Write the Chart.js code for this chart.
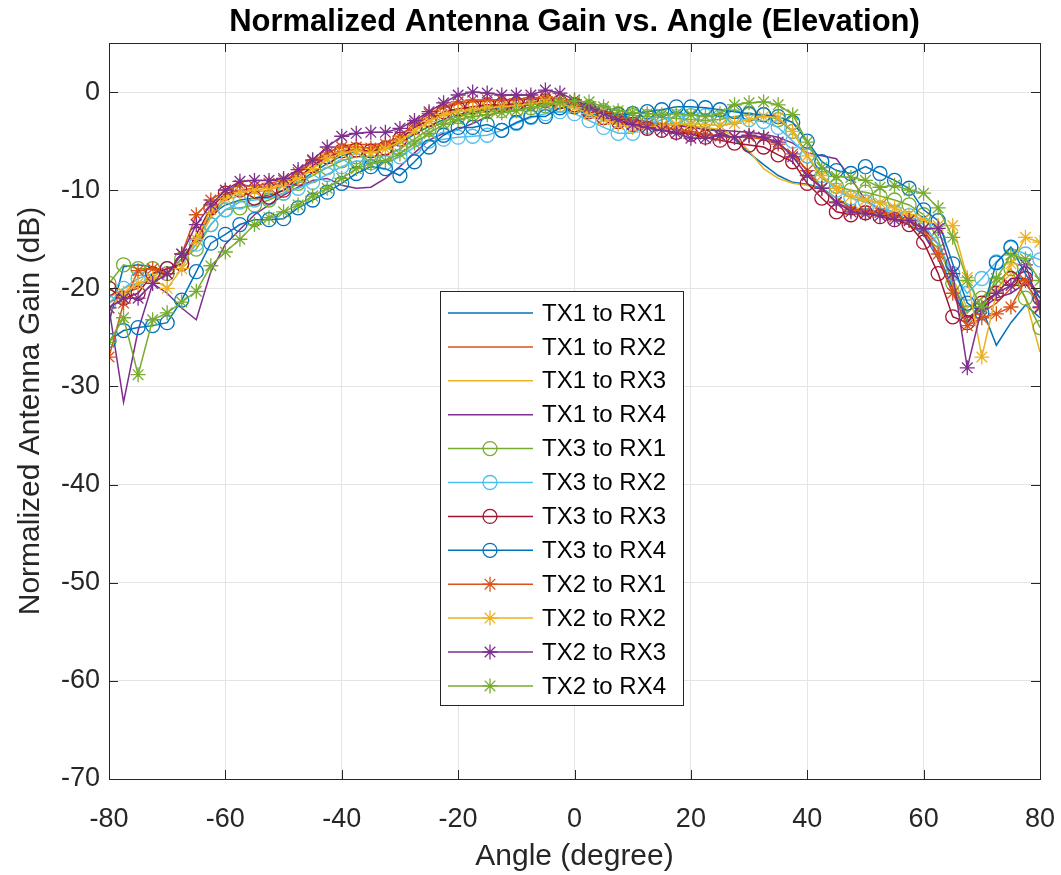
<!DOCTYPE html>
<html>
<head>
<meta charset="utf-8">
<script src="https://cdn.jsdelivr.net/npm/chart.js@4/dist/chart.umd.min.js"></script>
<style>
  body { margin: 0; background: #fff; }
  #wrap { width: 1061px; height: 875px; }
</style>
</head>
<body>
<div id="wrap"><canvas id="gainChart" width="1061" height="875"></canvas></div>
<script>
// angle in degree
const angles = [-80, -77.5, -75, -72.5, -70, -67.5, -65, -62.5, -60, -57.5, -55, -52.5, -50,
    -47.5, -45, -42.5, -40, -37.5, -35, -32.5, -30, -27.5, -25, -22.5, -20, -17.5,
    -15, -12.5, -10, -7.5, -5, -2.5, 0, 2.5, 5, 7.5, 10, 12.5, 15,
    17.5, 20, 22.5, 25, 27.5, 30, 32.5, 35, 37.5, 40, 42.5, 45, 47.5,
    50, 52.5, 55, 57.5, 60, 62.5, 65, 67.5, 70, 72.5, 75, 77.5, 80];

// normalized gain (dB)
const tx1rx1 = [-23.5, -17.8, -17.6, -17.8, -18.5, -17, -15, -12.5, -11.5, -11, -10.8, -10.5, -10,
    -9.2, -8.2, -7.3, -6.5, -6, -6, -5.8, -5.2, -4.3, -3.5, -2.8, -2.3, -2,
    -1.8, -1.6, -1.5, -1.3, -1.1, -1.2, -1.4, -1.8, -2.2, -2.6, -2.9, -3.1, -3.3,
    -3.3, -3.6, -3.8, -4, -4.8, -6.2, -7.4, -8.5, -9.2, -9.4, -9.8, -10.8, -11.8,
    -12.3, -12.6, -13, -13.5, -14.5, -16.5, -20, -23.5, -22, -25.8, -23.5, -21.7, -23];
const tx1rx2 = [-21.5, -20.5, -20, -18.5, -18, -17.5, -15, -12.5, -10.5, -10, -9.8, -9.6, -9.2,
    -8.3, -7.2, -6.2, -5.5, -5.3, -5.4, -5.2, -4.5, -3.4, -2.5, -1.6, -1.2, -1,
    -0.9, -0.9, -0.8, -0.7, -0.6, -0.8, -1.2, -1.7, -2.2, -2.6, -3, -3.3, -3.6,
    -3.9, -4.2, -4.4, -4.5, -4.6, -4.6, -4.8, -5.3, -6.3, -8, -9.8, -11.3, -11.8,
    -12, -12.3, -12.6, -13, -14, -15.5, -19.5, -23, -22.5, -21.5, -20, -19, -20.5];
const tx1rx3 = [-21, -20, -19.5, -19, -18.5, -17.5, -15.5, -12.8, -11, -10.5, -10.2, -10, -9.5,
    -8.7, -7.8, -6.8, -6, -5.7, -5.7, -5.5, -4.8, -3.7, -2.8, -2.2, -1.8, -1.6,
    -1.5, -1.4, -1.3, -1.2, -1, -1.1, -1.5, -2.2, -2.8, -3.2, -3.4, -3.4, -3.3,
    -3.2, -3.4, -3.6, -3.8, -4.5, -6, -7.8, -8.8, -9.3, -9.5, -9.9, -10.8, -11.6,
    -12.1, -12.5, -12.9, -13.4, -14.3, -16, -19, -22, -21, -20, -18.5, -21, -26.5];
const tx1rx4 = [-22, -31.6, -24.3, -19.5, -20.5, -22, -23.2, -18.3, -15.5, -14, -12.5, -11.5, -10.5,
    -9.7, -9, -8.8, -9.5, -9.8, -9.7, -8.8, -7.6, -6.2, -4.9, -4.2, -3.8, -3.2,
    -2.5, -1.8, -1.5, -1.2, -1, -1.1, -1.4, -1.8, -2.2, -2.5, -2.8, -3, -3.2,
    -3.4, -3.6, -3.8, -3.9, -4, -4.1, -4.3, -4.6, -5.2, -6.2, -6.5, -6.8, -8.8,
    -11, -12, -12.5, -13, -14.5, -17, -20.5, -23, -22, -21, -20.5, -19.5, -21.5];
const tx3rx1 = [-19.5, -17.6, -18, -18, -18.5, -17, -16, -13.5, -12, -11.8, -11.5, -11, -10.3,
    -9.3, -8.5, -7.7, -7, -6.6, -6.6, -6.4, -5.8, -4.8, -3.8, -3, -2.5, -2.2,
    -2, -1.9, -1.8, -1.6, -1.4, -1.3, -1.3, -1.5, -1.9, -2.2, -2.4, -2.5, -2.6,
    -2.7, -2.8, -2.9, -2.8, -2.5, -2.3, -2.3, -2.8, -4, -6.5, -8.8, -9.6, -10,
    -10.2, -10.6, -11, -11.5, -12.5, -15, -19.5, -22.5, -21, -19.5, -18, -21, -24];
const tx3rx2 = [-21.5, -20, -19, -18.5, -18, -17.5, -15.5, -13.5, -12, -11.2, -11, -10.8, -10.3,
    -9.8, -9.2, -8.4, -7.6, -7, -7.2, -7.2, -6.6, -5.6, -5, -4.8, -4.6, -4.5,
    -4.4, -3.9, -3.2, -2.6, -2.2, -2, -2.2, -2.9, -3.6, -4.2, -4.2, -3.5, -2.8,
    -2.5, -2.4, -2.4, -2.5, -2.6, -2.8, -3, -3.6, -5, -6.5, -8.5, -10, -10.8,
    -11.2, -11.8, -12.2, -12.6, -13.5, -15.5, -18.5, -20.5, -19, -17.3, -15.9, -16.5, -17.1];
const tx3rx3 = [-20, -21, -20.5, -18.5, -18, -17.5, -14.5, -11.8, -10.3, -10, -10.8, -10.7, -10,
    -8.8, -7.5, -6.6, -6, -5.9, -6, -5.7, -4.8, -3.6, -2.8, -2, -1.7, -1.5,
    -1.3, -1.3, -1.2, -1.1, -0.9, -1, -1.3, -2, -2.6, -3, -3.3, -3.7, -3.9,
    -4.1, -4.3, -4.6, -4.9, -5.2, -5.4, -5.6, -6.4, -7.1, -9.3, -10.8, -12.2, -12.5,
    -12.3, -12.7, -13, -13.5, -15.3, -18.5, -22.9, -23.5, -21.5, -20.5, -19, -19, -21];
const tx3rx4 = [-25.3, -24.3, -24, -23.8, -23.5, -21.2, -18.3, -15.4, -14.5, -13.5, -13, -13, -12.9,
    -11.8, -11, -10.2, -9.3, -8.3, -7.6, -7.8, -8.5, -7.1, -5.6, -4.4, -3.6, -3.6,
    -3.3, -3.9, -3.1, -2.5, -2.5, -1.6, -1.5, -1.8, -2.1, -2.3, -2.2, -2, -1.8,
    -1.5, -1.5, -1.6, -1.8, -2, -2.2, -2.3, -2.5, -3.1, -5, -7.1, -8, -8.3,
    -7.6, -8.3, -9, -9.8, -12, -13.1, -17.5, -21.5, -22.5, -17.4, -15.8, -18.5, -21];
const tx2rx1 = [-27, -21.5, -18.2, -18, -18.5, -16.5, -12.5, -11, -10, -9.5, -9.6, -9.3, -9,
    -8.2, -7, -6.2, -5.6, -5.6, -5.7, -5.3, -4.5, -3.2, -2.2, -1.5, -1, -0.8,
    -0.8, -0.8, -0.7, -0.6, -0.5, -0.7, -1.1, -1.6, -2.1, -2.6, -3, -3.3, -3.5,
    -3.8, -4, -4.3, -4.5, -4.6, -4.5, -4.6, -5.3, -6.3, -8, -9.8, -11.3, -12,
    -12.2, -12.3, -12.7, -13, -14, -16.5, -20.5, -23.8, -23, -22.6, -21.9, -19.2, -22];
const tx2rx2 = [-22, -20.5, -19.5, -19, -20, -18, -15, -12, -10.8, -10.2, -10, -9.8, -9.5,
    -8.8, -7.8, -6.8, -6.2, -6, -6.2, -5.8, -5, -4, -3, -2.3, -2, -1.8,
    -1.6, -1.5, -1.4, -1.2, -1, -1.2, -1.6, -2.2, -2.8, -3.3, -3.6, -3.6, -3.4,
    -3.3, -3.2, -3.3, -3.4, -3.2, -2.8, -2.5, -2.6, -4, -6.5, -8.5, -9.8, -10.6,
    -11, -11.3, -11.8, -12.5, -13, -13.6, -13.6, -18.9, -27, -20.5, -17.5, -14.8, -15.3];
const tx2rx3 = [-22, -21, -21, -19.5, -18.5, -16.5, -13.5, -11.5, -10, -9.1, -9, -9, -8.8,
    -7.9, -6.9, -5.6, -4.5, -4.2, -4.1, -4.1, -3.7, -2.9, -2, -1.1, -0.3, 0,
    -0.1, -0.3, -0.3, -0.3, 0.2, -0.1, -0.8, -1.5, -2.2, -2.8, -3.3, -3.6, -3.9,
    -4.2, -4.7, -4.7, -4.4, -4.6, -4.4, -4.6, -5.1, -6.6, -8.5, -9.8, -11.2, -12.2,
    -12.4, -12.6, -13, -13.1, -13.9, -13.9, -18.5, -28.1, -22, -20.5, -19.7, -17.6, -21.9];
const tx2rx4 = [-25.5, -23, -28.8, -23.2, -22.5, -21.4, -20.3, -17.7, -16.3, -15, -13.5, -12.8, -12.2,
    -11.5, -10.6, -9.8, -8.8, -7.8, -7.3, -7, -6.3, -5.2, -4.2, -3.3, -2.8, -2.5,
    -2.3, -2.1, -1.9, -1.6, -1.3, -1, -0.9, -1, -1.5, -1.9, -2.1, -2.2, -2.3,
    -2.2, -2.3, -2.5, -2.2, -1.3, -1.1, -1, -1.3, -2.3, -5.1, -7.7, -8.6, -8.7,
    -9, -9.7, -9.5, -10, -10.3, -11.8, -14.8, -19.2, -21.9, -19, -16.6, -17, -19.2];

const seriesNames = ["TX1 to RX1", "TX1 to RX2", "TX1 to RX3", "TX1 to RX4",
    "TX3 to RX1", "TX3 to RX2", "TX3 to RX3", "TX3 to RX4",
    "TX2 to RX1", "TX2 to RX2", "TX2 to RX3", "TX2 to RX4"];
const seriesData = [tx1rx1, tx1rx2, tx1rx3, tx1rx4, tx3rx1, tx3rx2, tx3rx3, tx3rx4,
    tx2rx1, tx2rx2, tx2rx3, tx2rx4];

const colors = ['#0072BD', '#D95319', '#EDB120', '#7E2F8E', '#77AC30', '#4DBEEE', '#A2142F',
    '#0072BD', '#D95319', '#EDB120', '#7E2F8E', '#77AC30'];
const markers = [false, false, false, false, 'circle', 'circle', 'circle', 'circle',
    'star', 'star', 'star', 'star'];

const chartTitle = 'Normalized Antenna Gain vs. Angle (Elevation)';
const FONT = '"Liberation Sans", Arial, Helvetica, sans-serif';

let datasets = [];
for (let i = 0; i < seriesData.length; i++) {
    let m = markers[i];
    datasets.push({
        label: seriesNames[i],
        data: angles.map((a, k) => ({ x: a, y: seriesData[i][k] })),
        borderColor: colors[i],
        backgroundColor: colors[i],
        borderWidth: 1.5,
        pointStyle: m || 'circle',
        pointRadius: m ? (m === 'star' ? 7.5 : 7) : 0,
        pointHoverRadius: m ? 7 : 0,
        pointBorderWidth: 1.3,
        pointBackgroundColor: 'rgba(0,0,0,0)',
        pointBorderColor: colors[i],
        tension: 0,
        order: seriesData.length - i
    });
}

// title centred over the axes, like matlab does it
const axesTitle = {
    id: 'axesTitle',
    afterDraw(chart) {
        const ctx = chart.ctx;
        const a = chart.chartArea;
        ctx.save();
        ctx.font = 'bold 31px ' + FONT;
        ctx.fillStyle = '#000000';
        ctx.textAlign = 'center';
        ctx.textBaseline = 'middle';
        ctx.fillText(chartTitle, (a.left + a.right) / 2, 22);
        ctx.restore();
    }
};

// box round the axes with ticks pointing in (matlab style)
const axesBox = {
    id: 'axesBox',
    afterDatasetsDraw(chart) {
        const ctx = chart.ctx;
        const a = chart.chartArea;
        const xs = chart.scales.x, ys = chart.scales.y;
        ctx.save();
        ctx.strokeStyle = '#262626';
        ctx.lineWidth = 1;
        ctx.strokeRect(Math.round(a.left) + 0.5, Math.round(a.top) + 0.5,
            Math.round(a.right - a.left), Math.round(a.bottom - a.top));
        ctx.beginPath();
        xs.ticks.forEach(t => {
            let px = Math.round(xs.getPixelForValue(t.value)) + 0.5;
            ctx.moveTo(px, a.bottom); ctx.lineTo(px, a.bottom - 9);
            ctx.moveTo(px, a.top); ctx.lineTo(px, a.top + 9);
        });
        ys.ticks.forEach(t => {
            let py = Math.round(ys.getPixelForValue(t.value)) + 0.5;
            ctx.moveTo(a.left, py); ctx.lineTo(a.left + 9, py);
            ctx.moveTo(a.right, py); ctx.lineTo(a.right - 9, py);
        });
        ctx.stroke();
        ctx.restore();
    }
};

// legend box inside the plot
const legendBox = {
    id: 'legendBox',
    afterDraw(chart) {
        const ctx = chart.ctx;
        const x0 = 440, y0 = 291, w = 243, h = 414;
        ctx.save();
        ctx.fillStyle = '#ffffff';
        ctx.fillRect(x0, y0, w, h);
        ctx.strokeStyle = '#262626';
        ctx.lineWidth = 1;
        ctx.strokeRect(x0 + 0.5, y0 + 0.5, w, h);
        ctx.font = '24px ' + FONT;
        ctx.textBaseline = 'middle';
        chart.data.datasets.forEach((ds, i) => {
            let y = y0 + 22 + i * 33.9;
            ctx.strokeStyle = ds.borderColor;
            ctx.lineWidth = ds.borderWidth;
            ctx.beginPath();
            ctx.moveTo(x0 + 8, y);
            ctx.lineTo(x0 + 93, y);
            ctx.stroke();
            if (ds.pointRadius > 0) {
                ctx.fillStyle = 'rgba(0,0,0,0)';
                ctx.lineWidth = ds.pointBorderWidth;
                Chart.helpers.drawPoint(ctx, {
                    pointStyle: ds.pointStyle, radius: ds.pointRadius,
                    borderWidth: ds.pointBorderWidth, rotation: 0
                }, x0 + 50, y);
            }
            ctx.fillStyle = '#000000';
            ctx.fillText(ds.label, x0 + 102, y + 1);
        });
        ctx.restore();
    }
};

const chart = new Chart(document.getElementById('gainChart'), {
    type: 'line',
    data: { datasets: datasets },
    plugins: [axesBox, legendBox, axesTitle],
    options: {
        responsive: false,
        animation: false,
        devicePixelRatio: 1,
        layout: { padding: { left: 0, right: 21, top: 43, bottom: 0 } },
        plugins: {
            legend: { display: false },
            tooltip: { enabled: false },
            title: { display: false }
        },
        scales: {
            x: {
                type: 'linear',
                min: -80,
                max: 80,
                ticks: {
                    stepSize: 20,
                    color: '#262626',
                    padding: 24,
                    maxRotation: 0,
                    font: { family: FONT, size: 27 }
                },
                grid: { color: '#e4e4e4', drawTicks: false },
                border: { display: false },
                title: {
                    display: true,
                    text: 'Angle (degree)',
                    color: '#262626',
                    font: { family: FONT, size: 30 },
                    padding: { top: 0, bottom: 0 }
                },
                afterFit: function (scale) {
                    scale.height = 96;
                    scale.paddingLeft = 0;
                    scale.paddingRight = 0;
                }
            },
            y: {
                min: -70,
                max: 5,
                ticks: {
                    stepSize: 10,
                    includeBounds: false,
                    color: '#262626',
                    padding: 9,
                    font: { family: FONT, size: 27 }
                },
                grid: { color: '#e4e4e4', drawTicks: false },
                border: { display: false },
                title: {
                    display: true,
                    text: 'Normalized Antenna Gain (dB)',
                    color: '#262626',
                    font: { family: FONT, size: 30 },
                    padding: { top: 13, bottom: 0 }
                },
                afterFit: function (scale) {
                    scale.width = 109;
                    scale.paddingTop = 0;
                    scale.paddingBottom = 0;
                }
            }
        }
    }
});
</script>
</body>
</html>
